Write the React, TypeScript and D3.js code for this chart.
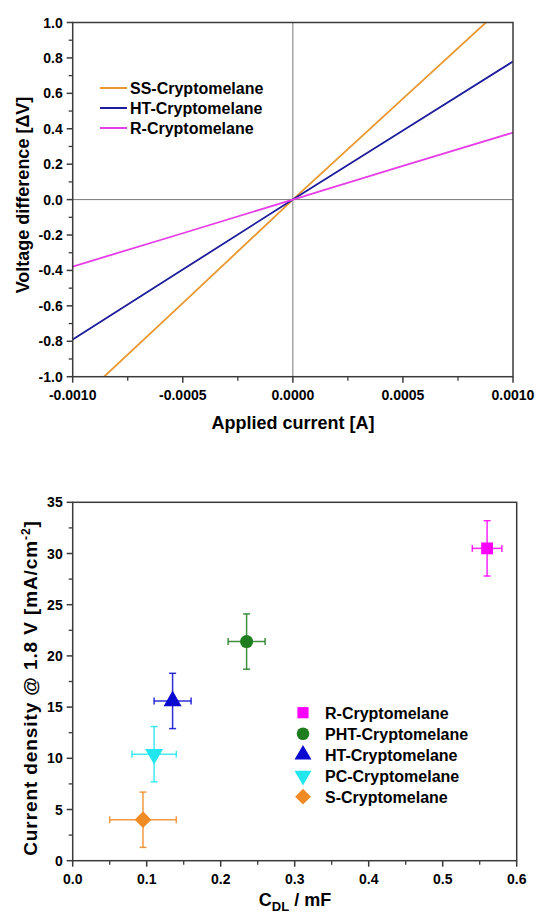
import * as d3 from "d3";

// top panel: V-I lines
const currentA = [-0.001, -0.0005, 0, 0.0005, 0.001];
const ssVolt = [-1.165, -0.585, 0, 0.57, 1.14];
const htVolt = [-0.79, -0.395, 0, 0.39, 0.78];
const rVolt = [-0.378, -0.19, 0, 0.19, 0.378];
const lineNames = ["SS-Cryptomelane", "HT-Cryptomelane", "R-Cryptomelane"];
const lineColors = ["#e8982e", "#1c1c9c", "#e63ee6"];

// bottom panel: current density vs C_DL
const samples = ["R-Cryptomelane", "PHT-Cryptomelane", "HT-Cryptomelane", "PC-Cryptomelane", "S-Cryptomelane"];
const cdl = [0.56, 0.235, 0.135, 0.11, 0.095];
const cdlErr = [0.02, 0.025, 0.025, 0.03, 0.045];
const density = [30.5, 21.4, 15.6, 10.4, 4.0];
const densityErr = [2.7, 2.7, 2.7, 2.7, 2.7];
const sampleColors = ["#ff00ff", "#1e7d1e", "#0a0ad0", "#22e6ee", "#f08a24"];
const sampleShapes = ["square", "circle", "triangle", "triangleDown", "diamond"];

const font = "'Liberation Sans', Arial, sans-serif";
const frame = "#3a3a3a";

const hyphen = (f: (n: number) => string) => (v: number) => f(v).replace("−", "-");

function marker(shape: string, size: number) {
  if (shape === "square") return d3.symbol(d3.symbolSquare, size)();
  if (shape === "circle") return d3.symbol(d3.symbolCircle, size)();
  if (shape === "diamond") return d3.symbol(d3.symbolSquare, size)();
  return d3.symbol(d3.symbolTriangle, size)();
}
function rot(shape: string) {
  if (shape === "triangleDown") return 180;
  if (shape === "diamond") return 45;
  return 0;
}

function Axes({ x, y, xTicks, xMinor, yTicks, yMinor, xFmt, yFmt }: any) {
  const [x0, x1] = x.range();
  const [y0, y1] = y.range();
  return (
    <g>
      <rect x={x0} y={y1} width={x1 - x0} height={y0 - y1} fill="none" stroke={frame} strokeWidth={1.5} />
      {xMinor.map((t: number, i: number) => (
        <line key={"xm" + i} x1={x(t)} x2={x(t)} y1={y0} y2={y0 + 4} stroke={frame} strokeWidth={1.3} />
      ))}
      {yMinor.map((t: number, i: number) => (
        <line key={"ym" + i} x1={x0} x2={x0 - 4} y1={y(t)} y2={y(t)} stroke={frame} strokeWidth={1.3} />
      ))}
      {xTicks.map((t: number, i: number) => (
        <g key={"xt" + i}>
          <line x1={x(t)} x2={x(t)} y1={y0} y2={y0 + 6} stroke={frame} strokeWidth={1.5} />
          <text x={x(t)} y={y0 + 23} textAnchor="middle" fontSize={14} fontWeight="bold">{xFmt(t)}</text>
        </g>
      ))}
      {yTicks.map((t: number, i: number) => (
        <g key={"yt" + i}>
          <line x1={x0} x2={x0 - 6} y1={y(t)} y2={y(t)} stroke={frame} strokeWidth={1.5} />
          <text x={x0 - 10} y={y(t) + 5} textAnchor="end" fontSize={14} fontWeight="bold">{yFmt(t)}</text>
        </g>
      ))}
    </g>
  );
}

export default function App() {
  // top chart scales
  const x1 = d3.scaleLinear([-0.001, 0.001], [72.7, 513]);
  const y1 = d3.scaleLinear([-1, 1], [376.7, 22.5]);
  const line = d3.line<number>().x((_, i) => x1(currentA[i])).y((d) => y1(d));
  const series = [ssVolt, htVolt, rVolt];

  // bottom chart scales
  const x2 = d3.scaleLinear([0, 0.6], [72.7, 516.7]);
  const y2 = d3.scaleLinear([0, 35], [860.7, 502.3]);

  return (
    <svg width={536} height={913} style={{ position: "absolute", left: 0, top: 0, fontFamily: font }}>
      <rect width={536} height={913} fill="#fff" />
      <defs>
        <clipPath id="clipTop">
          <rect x={72.7} y={22.5} width={513 - 72.7} height={376.7 - 22.5} />
        </clipPath>
      </defs>

      {/* zero lines */}
      <line x1={x1(0)} x2={x1(0)} y1={y1(1)} y2={y1(-1)} stroke="#777" strokeWidth={1} />
      <line x1={x1(-0.001)} x2={x1(0.001)} y1={y1(0)} y2={y1(0)} stroke="#777" strokeWidth={1} />

      <g clipPath="url(#clipTop)">
        {series.map((s, i) => (
          <path key={i} d={line(s) || ""} fill="none" stroke={lineColors[i]} strokeWidth={1.8} />
        ))}
      </g>

      <Axes
        x={x1}
        y={y1}
        xTicks={d3.range(-0.001, 0.00101, 0.0005)}
        xMinor={d3.range(-0.00075, 0.001, 0.0005)}
        yTicks={d3.range(-1, 1.01, 0.2)}
        yMinor={d3.range(-0.9, 1, 0.2)}
        xFmt={hyphen(d3.format(".4f"))}
        yFmt={hyphen(d3.format(".1f"))}
      />

      {lineNames.map((n, i) => (
        <g key={n}>
          <line x1={100} x2={127} y1={88 + i * 20} y2={88 + i * 20} stroke={lineColors[i]} strokeWidth={2} />
          <text x={130} y={88 + i * 20 + 6} fontSize={16} fontWeight="bold">{n}</text>
        </g>
      ))}

      <text x={293} y={429} textAnchor="middle" fontSize={18} fontWeight="bold">Applied current [A]</text>
      <text transform="translate(28.5,195) rotate(-90)" textAnchor="middle" fontSize={18} fontWeight="bold">
        Voltage difference [ΔV]
      </text>

      {/* bottom chart */}
      <Axes
        x={x2}
        y={y2}
        xTicks={d3.range(0, 0.61, 0.1)}
        xMinor={d3.range(0.05, 0.6, 0.1)}
        yTicks={d3.range(0, 36, 5)}
        yMinor={d3.range(2.5, 35, 5)}
        xFmt={d3.format(".1f")}
        yFmt={d3.format("d")}
      />

      {samples.map((s, i) => {
        const cx = x2(cdl[i]);
        const cy = y2(density[i]);
        const xa = x2(cdl[i] - cdlErr[i]);
        const xb = x2(cdl[i] + cdlErr[i]);
        const ya = y2(density[i] + densityErr[i]);
        const yb = y2(density[i] - densityErr[i]);
        const c = sampleColors[i];
        return (
          <g key={s}>
            <g stroke={c} strokeWidth={1.5} strokeOpacity={0.85}>
              <line x1={xa} x2={xb} y1={cy} y2={cy} />
              <line x1={cx} x2={cx} y1={ya} y2={yb} />
              <line x1={xa} x2={xa} y1={cy - 3.5} y2={cy + 3.5} />
              <line x1={xb} x2={xb} y1={cy - 3.5} y2={cy + 3.5} />
              <line x1={cx - 3.5} x2={cx + 3.5} y1={ya} y2={ya} />
              <line x1={cx - 3.5} x2={cx + 3.5} y1={yb} y2={yb} />
            </g>
            <path
              d={marker(sampleShapes[i], sampleShapes[i] === "circle" ? 135 : 140) || ""}
              transform={`translate(${cx},${cy}) rotate(${rot(sampleShapes[i])})`}
              fill={c}
            />
          </g>
        );
      })}

      {samples.map((s, i) => (
        <g key={"lg" + s}>
          <path
            d={marker(sampleShapes[i], 125) || ""}
            transform={`translate(303,${712.7 + i * 21}) rotate(${rot(sampleShapes[i])})`}
            fill={sampleColors[i]}
          />
          <text x={325} y={712.7 + i * 21 + 6} fontSize={16} fontWeight="bold">{s}</text>
        </g>
      ))}

      <text x={295} y={906} textAnchor="middle" fontSize={18} fontWeight="bold">
        C<tspan fontSize={13} dy={5}>DL</tspan>
        <tspan dy={-5}> / mF</tspan>
      </text>
      <text
        transform="translate(37,688) rotate(-90)"
        textAnchor="middle"
        fontSize={19}
        fontWeight="bold"
        letterSpacing={0.9}
      >
        Current density @ 1.8 V [mA/cm<tspan fontSize={12} dy={-7}>-2</tspan>
        <tspan dy={7}>]</tspan>
      </text>
    </svg>
  );
}
